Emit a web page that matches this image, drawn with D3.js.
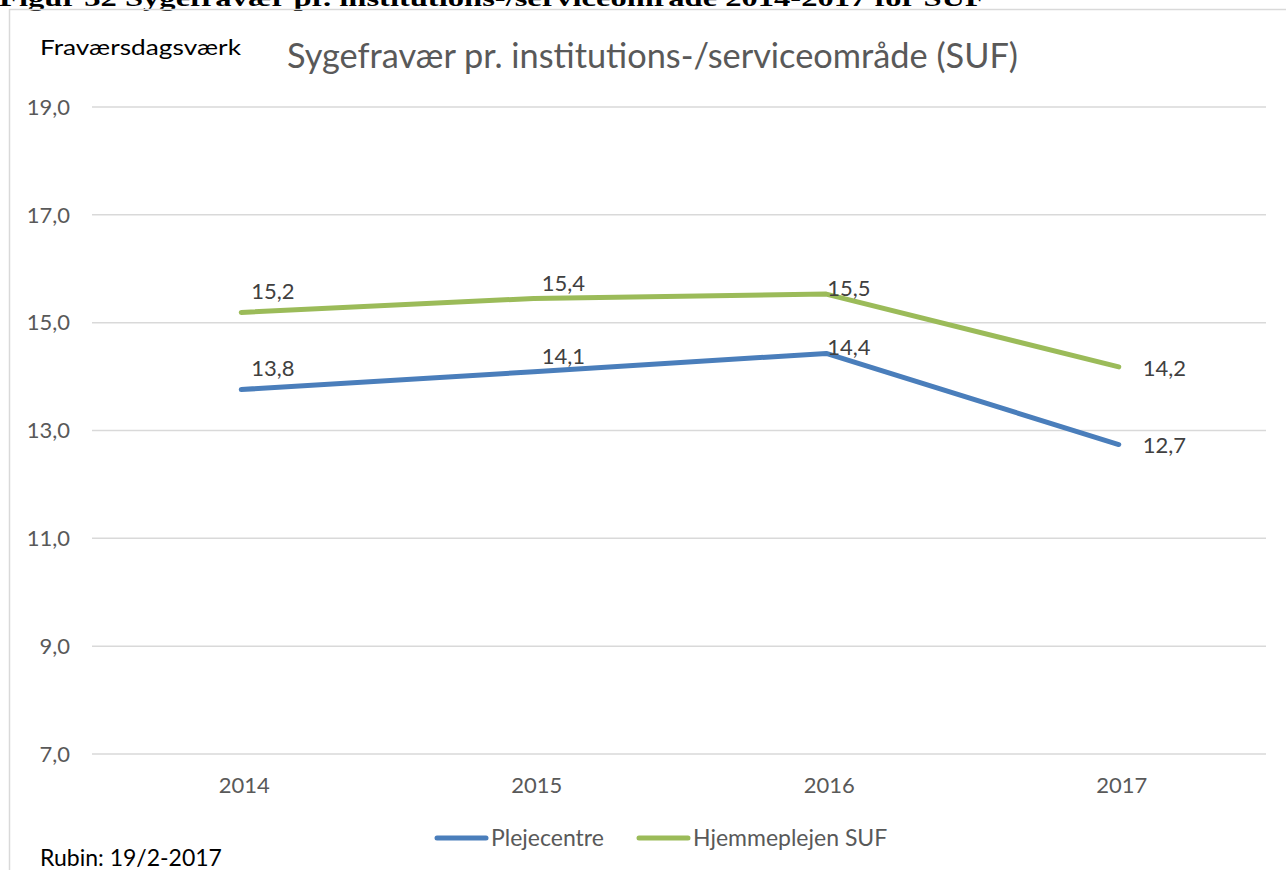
<!DOCTYPE html>
<html>
<head>
	<meta charset="utf-8">
	<title>Sygefravær pr. institutions-/serviceområde (SUF)</title>
	<style>
		html, body { margin:0; padding:0; background:#fff; }
		body { font-family: Lato, "Open Sans", "Liberation Sans", sans-serif; }
		.grid line { stroke:#d9d9d9; stroke-width:1.5px; }
		.tick-lbl { fill:#595959; font-size:22px; }
		.serie { fill:none; stroke-width:5px; stroke-linecap:round; stroke-linejoin:round; }
		.dlbl { fill:#404040; font-size:22px; }
	</style>
	<script src="https://d3js.org/d3.v7.min.js"></script>
</head>
<body>
<svg id="chart"></svg>
<script>

	//data
	var years = ["2014","2015","2016","2017"];
	var plejecentre = [13.76, 14.09, 14.43, 12.74];
	var hjemmepleje = [15.19, 15.45, 15.53, 14.18];
	var yTicks = [7, 9, 11, 13, 15, 17, 19];
	var seriesNames = ["Plejecentre", "Hjemmeplejen SUF"];
	var seriesColors = ["#4a7ebb", "#9bbb59"];

	var width = 1286, height = 870;
	var svg = d3.select("#chart").attr("width", width).attr("height", height);
	svg.append("rect").attr("width", width).attr("height", height).attr("fill", "#fff");

	//caption of the report, cut at top
	svg.append("text").attr("x", -1).attr("y", 6)
		.attr("textLength", 986).attr("lengthAdjust", "spacingAndGlyphs")
		.style("font-family", "'Liberation Serif', 'DejaVu Serif', serif")
		.style("font-weight", "bold").style("font-size", "23px").style("fill", "#000")
		.text("Figur 32  Sygefravær pr. institutions-/serviceområde 2014-2017 for SUF");

	//chart border
	svg.append("path").attr("d", "M9.5,870 V9.5 H1286")
		.attr("fill", "none").attr("stroke", "#d9d9d9").attr("stroke-width", 1.5);

	var x = d3.scalePoint().domain(years).range([95, 1265]).padding(0.5);
	var y = d3.scaleLinear().domain([7, 19]).range([754, 107]);

	//gridlines
	var grid = svg.append("g").attr("class", "grid");
	grid.selectAll("line").data(yTicks).enter().append("line")
		.attr("x1", 92).attr("x2", 1266)
		.attr("y1", function(d){ return y(d); }).attr("y2", function(d){ return y(d); });

	var fmt = function(v){ return d3.format(".1f")(v).replace(".", ","); };

	//y labels
	svg.append("g").selectAll("text").data(yTicks).enter().append("text")
		.attr("class", "tick-lbl").attr("x", 70).attr("y", function(d){ return y(d); })
		.attr("dy", "0.35em").attr("text-anchor", "end")
		.text(function(d){ return fmt(d); });

	//x labels
	svg.append("g").selectAll("text").data(years).enter().append("text")
		.attr("class", "tick-lbl").attr("x", function(d){ return x(d) + 3; }).attr("y", 785)
		.attr("dy", "0.35em").attr("text-anchor", "middle")
		.text(function(d){ return d; });

	//lines
	var line = d3.line().x(function(d, i){ return x(years[i]); }).y(function(d){ return y(d); });
	var series = [plejecentre, hjemmepleje];
	series.forEach(function(s, k){
		svg.append("path").attr("class", "serie").attr("d", line(s)).attr("stroke", seriesColors[k]);
	});

	//data labels
	var lblDx = [10, 8, 1, 24], lblDy = [-21, -15, -6, 1];
	series.forEach(function(s, k){
		svg.append("g").selectAll("text").data(s).enter().append("text")
			.attr("class", "dlbl")
			.attr("x", function(d, i){ return x(years[i]) + lblDx[i]; })
			.attr("y", function(d, i){ return y(d) + lblDy[i]; })
			.attr("dy", "0.35em")
			.text(function(d){ return fmt(d); });
	});

	//titles
	svg.append("text").attr("x", 40).attr("y", 47).attr("dy", "0.35em")
		.style("font-size", "22px").style("fill", "#000")
		.attr("textLength", 201).attr("lengthAdjust", "spacingAndGlyphs")
		.text("Fraværsdagsværk");
	svg.append("text").attr("x", 287).attr("y", 56).attr("dy", "0.35em")
		.style("font-size", "34px").style("fill", "#595959")
		.attr("textLength", 731).attr("lengthAdjust", "spacingAndGlyphs")
		.text("Sygefravær pr. institutions-/serviceområde (SUF)");

	//legend
	var legX = [435, 637];
	seriesNames.forEach(function(n, k){
		svg.append("line").attr("x1", legX[k] + 2).attr("x2", legX[k] + 51)
			.attr("y1", 838).attr("y2", 838)
			.attr("stroke", seriesColors[k]).attr("stroke-width", 5).attr("stroke-linecap", "round");
		svg.append("text").attr("x", legX[k] + 56).attr("y", 838)
			.attr("dy", "0.35em").style("font-size", "23px").style("fill", "#595959").text(n);
	});

	//source
	svg.append("text").attr("x", 40).attr("y", 858).attr("dy", "0.35em")
		.style("font-size", "23px").style("fill", "#000")
		.text("Rubin: 19/2-2017");

</script>
</body>
</html>
